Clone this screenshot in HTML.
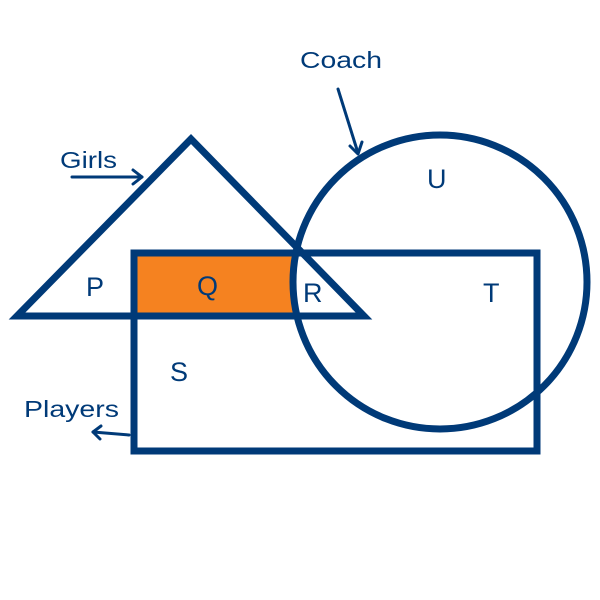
<!DOCTYPE html>
<html><head><style>body{margin:0;background:#fff}svg{display:block}</style></head><body>
<svg width="600" height="600" viewBox="0 0 600 600" xmlns="http://www.w3.org/2000/svg">
<rect x="137" y="256" width="160" height="58" fill="#f58220"/>
<circle cx="440" cy="282" r="147" fill="#fff"/>
<g fill="none" stroke="#003a78" stroke-width="7">
<polygon points="191,139 17,316 364,316" stroke-linejoin="miter"/>
<rect x="134" y="253" width="403" height="198"/>
<circle cx="440" cy="282" r="147"/>
</g>
<g fill="none" stroke="#003a78" stroke-width="3" stroke-linecap="round" stroke-linejoin="round">
<line x1="72" y1="177" x2="142" y2="177"/><polyline points="133,170 142,177 133,184"/>
<line x1="338" y1="89" x2="358" y2="153"/><polyline points="350,146 358,154 362,142"/>
<line x1="129" y1="435" x2="93" y2="432"/><polyline points="101,426 93,432 100,439"/>
</g>
<g font-family="Liberation Sans, sans-serif" fill="#003a78" font-size="23">
<text x="300" y="68" textLength="82" lengthAdjust="spacingAndGlyphs">Coach</text>
<text x="60" y="168" textLength="57" lengthAdjust="spacingAndGlyphs">Girls</text>
<text x="24" y="417" textLength="95" lengthAdjust="spacingAndGlyphs">Players</text>
<text x="86" y="296" font-size="27">P</text>
<text x="197" y="295" font-size="27">Q</text>
<text x="303" y="302" font-size="27">R</text>
<text x="170" y="381" font-size="27">S</text>
<text x="483" y="302" font-size="27">T</text>
<text x="427" y="188" font-size="27">U</text>
</g>
</svg>
</body></html>
